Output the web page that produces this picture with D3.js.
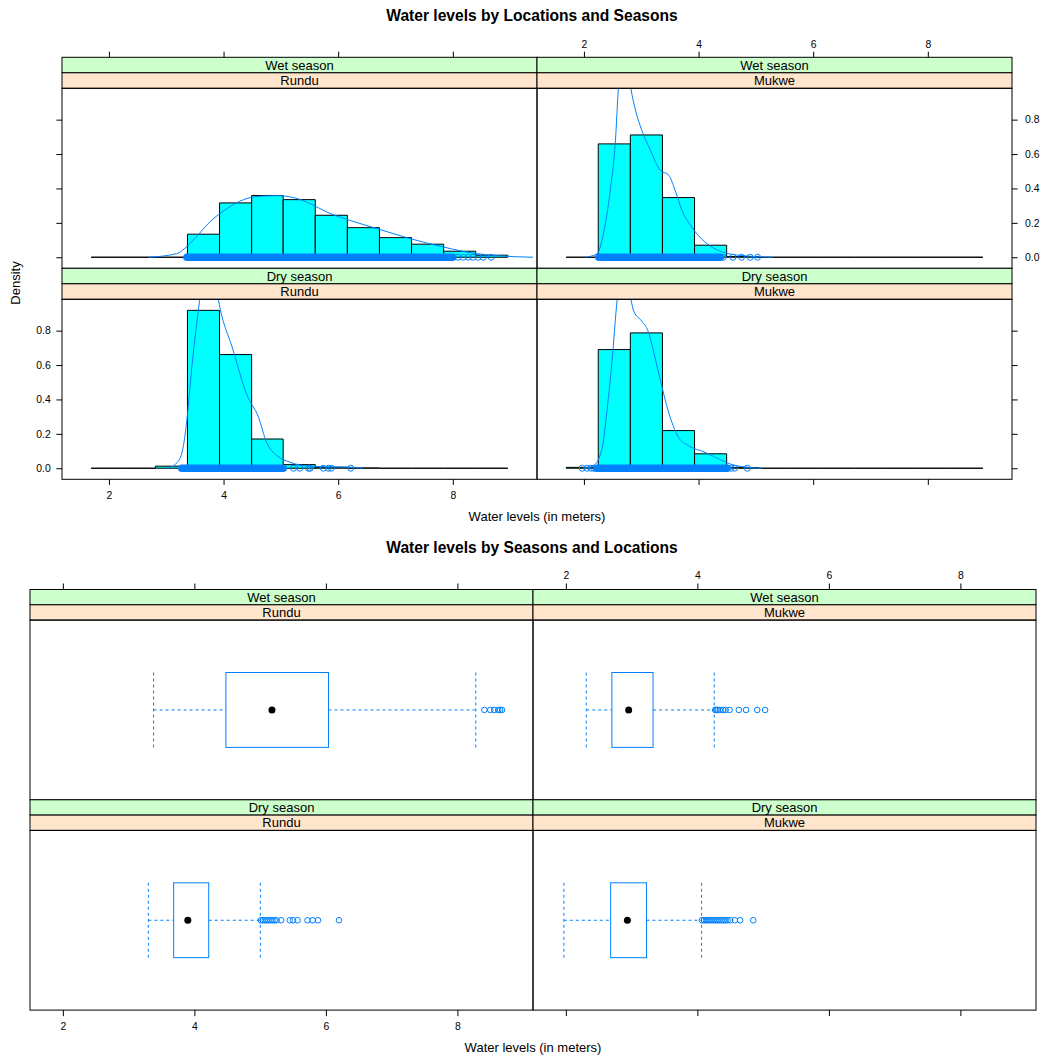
<!DOCTYPE html>
<html>
<head>
<meta charset="utf-8">
<script src="https://cdn.jsdelivr.net/npm/d3@7"></script>
<style>
body { margin: 0; background: #fff; }
svg text { font-family: "Liberation Sans", Arial, Helvetica, sans-serif; fill: #000; }
</style>
</head>
<body>
<div id="chart"></div>
<script>
const seasons = ["Wet season", "Dry season"];
const locations = ["Rundu", "Mukwe"];
const xTicks = [2, 4, 6, 8];
const densityTicks = [0, 0.2, 0.4, 0.6, 0.8];

// histogram bins, same for every panel
const binEdges = [1.69, 2.25, 2.81, 3.37, 3.93, 4.49, 5.04, 5.60, 6.16, 6.72, 7.28, 7.84, 8.40, 8.96];

const histWetRundu = [0, 0, 0, 0.134, 0.316, 0.359, 0.335, 0.244, 0.172, 0.114, 0.076, 0.035, 0.012];
const histWetMukwe = [0, 0.659, 0.711, 0.347, 0.070, 0.004, 0, 0, 0, 0, 0, 0, 0];
const histDryRundu = [0, 0, 0.012, 0.918, 0.661, 0.170, 0.021, 0.006, 0.002, 0, 0, 0, 0];
const histDryMukwe = [0.005, 0.690, 0.787, 0.219, 0.084, 0.004, 0, 0, 0, 0, 0, 0, 0];

// density curves [water level, density]
const densWetRundu = [[2.69, 0], [3.18, 0.021], [3.47, 0.099], [3.76, 0.205], [4.06, 0.283], [4.35, 0.335],
  [4.64, 0.355], [4.93, 0.358], [5.22, 0.347], [5.51, 0.312], [5.80, 0.263], [6.20, 0.215], [6.67, 0.167],
  [7.25, 0.109], [7.83, 0.060], [8.41, 0.021], [8.82, 0.008], [9.40, 0]];
const densWetMukwe = [[2.02, 0], [2.23, 0.02], [2.34, 0.137], [2.46, 0.39], [2.55, 0.68], [2.60, 0.98],
  [2.70, 1.3], [2.82, 0.98], [2.90, 0.855], [3.01, 0.738], [3.16, 0.622], [3.33, 0.506], [3.48, 0.477],
  [3.59, 0.39], [3.71, 0.273], [3.88, 0.176], [4.11, 0.089], [4.41, 0.031], [4.75, 0.01], [5.30, 0]];
const densDryRundu = [[3.0, 0], [3.07, 0.005], [3.18, 0.03], [3.27, 0.085], [3.35, 0.25], [3.45, 0.6],
  [3.58, 0.97], [3.75, 1.35], [3.91, 0.98], [4.17, 0.683], [4.40, 0.432], [4.61, 0.296], [4.75, 0.151],
  [4.93, 0.074], [5.16, 0.035], [5.50, 0.012], [5.90, 0.008], [6.20, 0.006], [6.43, 0]];
const densDryMukwe = [[2.02, 0], [2.17, 0.016], [2.32, 0.12], [2.40, 0.33], [2.49, 0.62], [2.58, 0.98],
  [2.70, 1.2], [2.82, 0.98], [2.87, 0.913], [3.01, 0.855], [3.12, 0.797], [3.24, 0.643], [3.35, 0.489],
  [3.47, 0.334], [3.65, 0.18], [3.82, 0.132], [4.11, 0.093], [4.41, 0.045], [4.64, 0.016], [5.10, 0]];

// jittered points at density 0: solid run + single points
const denseWetRundu = [3.36, 8.0];
const sparseWetRundu = [8.09, 8.18, 8.27, 8.35, 8.44, 8.53, 8.67];
const denseWetMukwe = [2.26, 4.38];
const sparseWetMukwe = [4.43, 4.60, 4.75, 4.90, 5.03];
const denseDryRundu = [3.27, 5.04];
const sparseDryRundu = [5.22, 5.33, 5.48, 5.51, 5.74, 5.83, 5.88, 6.22];
const denseDryMukwe = [2.22, 4.50];
const sparseDryMukwe = [1.97, 2.05, 2.12, 2.17, 4.57, 4.63, 4.85];

// box plots: lower whisker, Q1, median, Q3, upper whisker
const boxWetRundu = [3.38, 4.48, 5.18, 6.04, 8.28];
const outWetRundu = [8.41, 8.50, 8.56, 8.62, 8.65, 8.68];
const boxWetMukwe = [2.31, 2.70, 2.955, 3.326, 4.256];
const outWetMukwe = [4.27, 4.29, 4.31, 4.34, 4.39, 4.43, 4.49, 4.63, 4.74, 4.91, 5.03];
const boxDryRundu = [3.30, 3.685, 3.90, 4.218, 5.003];
const outDryRundu = [5.01, 5.04, 5.07, 5.10, 5.13, 5.16, 5.19, 5.22, 5.25, 5.32, 5.45, 5.50, 5.57, 5.72, 5.80, 5.88, 6.20];
const boxDryMukwe = [1.97, 2.681, 2.936, 3.226, 4.064];
const outDryMukwe = [4.07, 4.10, 4.13, 4.16, 4.19, 4.22, 4.25, 4.28, 4.31, 4.34, 4.37, 4.40, 4.43, 4.46, 4.50, 4.57, 4.65, 4.85];

const blue = "#0080ff";
const tickFont = 10.4;

const svg = d3.select("#chart").append("svg")
    .attr("width", 1046)
    .attr("height", 1059);

function drawStrips(x, y, w, sh, season, loc) {
    let g = svg.append("g").attr("transform", `translate(${x},${y})`);
    [[season, "#CCFFCC"], [loc, "#FFE5CC"]].forEach(function(s, i) {
        g.append("rect")
            .attr("x", 0).attr("y", i * sh)
            .attr("width", w).attr("height", sh)
            .attr("fill", s[1]).attr("stroke", "#000").attr("stroke-width", 1);
        g.append("text")
            .attr("x", w / 2).attr("y", i * sh + sh / 2)
            .attr("dy", "0.36em")
            .attr("text-anchor", "middle")
            .attr("font-size", 13)
            .text(s[0]);
    });
}

function putAxis(g, axis, tx, ty) {
    let a = g.append("g").attr("transform", `translate(${tx},${ty})`).call(axis);
    a.select(".domain").remove();
    a.attr("font-size", tickFont).attr("font-family", null);
    return a;
}

// ---------- top chart: histograms ----------
const hW = 475, hStrip = 15.5, hPanel = 180;
const hLeft = 62, hTop = 57.3;

const binSpan = binEdges[binEdges.length - 1] - binEdges[0];
const histX = d3.scaleLinear()
    .domain([binEdges[0] - 0.07 * binSpan, binEdges[binEdges.length - 1] + 0.07 * binSpan])
    .range([0, hW]);
const histMax = d3.max([histWetRundu, histWetMukwe, histDryRundu, histDryMukwe].flat());
const histY = d3.scaleLinear()
    .domain([-0.07 * histMax, 1.07 * histMax])
    .range([hPanel, 0]);

const histPanels = [
    {row: 0, col: 0, hist: histWetRundu, dens: densWetRundu, dense: denseWetRundu, sparse: sparseWetRundu},
    {row: 0, col: 1, hist: histWetMukwe, dens: densWetMukwe, dense: denseWetMukwe, sparse: sparseWetMukwe},
    {row: 1, col: 0, hist: histDryRundu, dens: densDryRundu, dense: denseDryRundu, sparse: sparseDryRundu},
    {row: 1, col: 1, hist: histDryMukwe, dens: densDryMukwe, dense: denseDryMukwe, sparse: sparseDryMukwe}
];

const densLine = d3.line()
    .x(d => histX(d[0]))
    .y(d => histY(d[1]))
    .curve(d3.curveMonotoneX);

// bars as paths so that empty bins still show as a line on the baseline
function barPath(d, i) {
    let x0 = histX(binEdges[i]), x1 = histX(binEdges[i + 1]);
    let y0 = histY(0), y1 = histY(d);
    return `M${x0},${y0}H${x1}V${y1}H${x0}Z`;
}

histPanels.forEach(function(p, k) {
    let gx = hLeft + p.col * hW;
    let gy = hTop + p.row * (2 * hStrip + hPanel);
    drawStrips(gx, gy, hW, hStrip, seasons[p.row], locations[p.col]);

    let g = svg.append("g").attr("transform", `translate(${gx},${gy + 2 * hStrip})`);
    g.append("clipPath").attr("id", "hclip" + k)
        .append("rect").attr("width", hW).attr("height", hPanel);
    let inner = g.append("g").attr("clip-path", `url(#hclip${k})`);

    inner.selectAll("path.bar")
        .data(p.hist)
        .enter()
        .append("path")
        .attr("class", "bar")
        .attr("d", barPath)
        .attr("fill", "#00FFFF")
        .attr("stroke", "#000")
        .attr("stroke-width", 1);

    inner.append("path")
        .attr("d", densLine(p.dens))
        .attr("fill", "none")
        .attr("stroke", blue)
        .attr("stroke-width", 1);

    inner.append("line")
        .attr("x1", histX(p.dense[0])).attr("x2", histX(p.dense[1]))
        .attr("y1", histY(0)).attr("y2", histY(0))
        .attr("stroke", blue)
        .attr("stroke-width", 7.5)
        .attr("stroke-linecap", "round");

    inner.selectAll("circle")
        .data(p.sparse)
        .enter()
        .append("circle")
        .attr("cx", d => histX(d))
        .attr("cy", histY(0))
        .attr("r", 3)
        .attr("fill", "none")
        .attr("stroke", blue)
        .attr("stroke-width", 1);

    g.append("rect")
        .attr("width", hW).attr("height", hPanel)
        .attr("fill", "none").attr("stroke", "#000").attr("stroke-width", 1);

    // axes alternate like lattice
    if (p.row == 0) {
        let ax = d3.axisTop(histX).tickValues(xTicks).tickSize(5.6).tickPadding(4);
        if (p.col == 0) ax.tickFormat("");
        putAxis(g, ax, 0, -2 * hStrip);
    } else {
        let ax = d3.axisBottom(histX).tickValues(xTicks).tickSize(5.6).tickPadding(6.7);
        if (p.col == 1) ax.tickFormat("");
        putAxis(g, ax, 0, hPanel);
    }
    if (p.col == 0) {
        let ay = d3.axisLeft(histY).tickValues(densityTicks).tickSize(5.6).tickPadding(5.7)
            .tickFormat(d3.format(".1f"));
        if (p.row == 0) ay.tickFormat("");
        putAxis(g, ay, 0, 0);
    } else {
        let ay = d3.axisRight(histY).tickValues(densityTicks).tickSize(5.6).tickPadding(7.4)
            .tickFormat(d3.format(".1f"));
        if (p.row == 1) ay.tickFormat("");
        putAxis(g, ay, hW, 0);
    }
});

svg.append("text")
    .attr("x", 532).attr("y", 15).attr("dy", "0.36em")
    .attr("text-anchor", "middle")
    .attr("font-size", 15.6).attr("font-weight", "bold")
    .text("Water levels by Locations and Seasons");

svg.append("text")
    .attr("x", hLeft + hW).attr("y", 516).attr("dy", "0.36em")
    .attr("text-anchor", "middle")
    .attr("font-size", 13)
    .text("Water levels (in meters)");

svg.append("text")
    .attr("transform", "translate(15,283)rotate(-90)")
    .attr("dy", "0.36em")
    .attr("text-anchor", "middle")
    .attr("font-size", 13)
    .text("Density");

// ---------- bottom chart: box plots ----------
const bW = 503, bStrip = 15.3, bPanel = 179.7;
const bLeft = 30, bTop = 589.5;

const allLevels = [boxWetRundu, outWetRundu, boxWetMukwe, outWetMukwe,
    boxDryRundu, outDryRundu, boxDryMukwe, outDryMukwe].flat();
const lvMin = d3.min(allLevels), lvMax = d3.max(allLevels);
const boxX = d3.scaleLinear()
    .domain([lvMin - 0.07 * (lvMax - lvMin), lvMax + 0.07 * (lvMax - lvMin)])
    .range([0, bW]);
const boxY = d3.scaleLinear().domain([0.4, 1.6]).range([bPanel, 0]);

const boxPanels = [
    {row: 0, col: 0, box: boxWetRundu, out: outWetRundu},
    {row: 0, col: 1, box: boxWetMukwe, out: outWetMukwe},
    {row: 1, col: 0, box: boxDryRundu, out: outDryRundu},
    {row: 1, col: 1, box: boxDryMukwe, out: outDryMukwe}
];

boxPanels.forEach(function(p) {
    let gx = bLeft + p.col * bW;
    let gy = bTop + p.row * (2 * bStrip + bPanel);
    drawStrips(gx, gy, bW, bStrip, seasons[p.row], locations[p.col]);

    let g = svg.append("g").attr("transform", `translate(${gx},${gy + 2 * bStrip})`);
    let s = p.box;

    // whiskers
    [[s[0], s[1]], [s[3], s[4]]].forEach(function(w) {
        g.append("line")
            .attr("x1", boxX(w[0])).attr("x2", boxX(w[1]))
            .attr("y1", boxY(1)).attr("y2", boxY(1))
            .attr("stroke", blue).attr("stroke-dasharray", "3,3");
    });
    [s[0], s[4]].forEach(function(v) {
        g.append("line")
            .attr("x1", boxX(v)).attr("x2", boxX(v))
            .attr("y1", boxY(1.25)).attr("y2", boxY(0.75))
            .attr("stroke", blue).attr("stroke-dasharray", "3,3");
    });
    g.append("rect")
        .attr("x", boxX(s[1])).attr("y", boxY(1.25))
        .attr("width", boxX(s[3]) - boxX(s[1]))
        .attr("height", boxY(0.75) - boxY(1.25))
        .attr("fill", "none").attr("stroke", blue).attr("stroke-width", 1);
    g.append("circle")
        .attr("cx", boxX(s[2])).attr("cy", boxY(1))
        .attr("r", 3.5).attr("fill", "#000");

    g.selectAll("circle.out")
        .data(p.out)
        .enter()
        .append("circle")
        .attr("class", "out")
        .attr("cx", d => boxX(d))
        .attr("cy", boxY(1))
        .attr("r", 2.8)
        .attr("fill", "none")
        .attr("stroke", blue)
        .attr("stroke-width", 1);

    g.append("rect")
        .attr("width", bW).attr("height", bPanel)
        .attr("fill", "none").attr("stroke", "#000").attr("stroke-width", 1);

    if (p.row == 0) {
        let ax = d3.axisTop(boxX).tickValues(xTicks).tickSize(6).tickPadding(4.6);
        if (p.col == 0) ax.tickFormat("");
        putAxis(g, ax, 0, -2 * bStrip);
    } else {
        let ax = d3.axisBottom(boxX).tickValues(xTicks).tickSize(6).tickPadding(7);
        if (p.col == 1) ax.tickFormat("");
        putAxis(g, ax, 0, bPanel);
    }
});

svg.append("text")
    .attr("x", 532).attr("y", 547).attr("dy", "0.36em")
    .attr("text-anchor", "middle")
    .attr("font-size", 15.6).attr("font-weight", "bold")
    .text("Water levels by Seasons and Locations");

svg.append("text")
    .attr("x", bLeft + bW).attr("y", 1047).attr("dy", "0.36em")
    .attr("text-anchor", "middle")
    .attr("font-size", 13)
    .text("Water levels (in meters)");
</script>
</body>
</html>
